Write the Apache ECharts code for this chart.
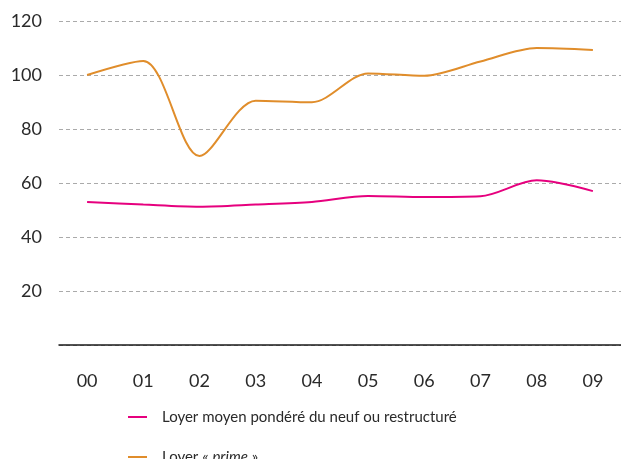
<!DOCTYPE html>
<html>
<head>
<meta charset="utf-8">
<script src="https://cdn.jsdelivr.net/npm/echarts@6/dist/echarts.min.js"></script>
<style>
html,body{margin:0;padding:0;background:#fff;}
#c{width:621px;height:459px;}
</style>
</head>
<body>
<div id="c"></div>
<script>
var categories = ['00','01','02','03','04','05','06','07','08','09'];
var loyerMoyen = [53, 52, 51.2, 52, 53, 55.2, 54.8, 55.1, 61, 57];
var loyerPrime = [100, 105.2, 70, 90.5, 89.9, 100.6, 99.7, 105, 110, 109.3];
var seriesNames = ['Loyer moyen pondéré du neuf ou restructuré', 'Loyer « prime »'];
var seriesColors = ['#e6007e', '#e08d2b'];
var yTicks = [0, 120, 20];

var FONT = 'Lato, "Open Sans", sans-serif';
var chart = echarts.init(document.getElementById('c'), null, {renderer:'canvas'});
chart.setOption({
  animation: false,
  backgroundColor: '#fff',
  grid: {left: 59, top: 21, width: 570, height: 324, containLabel: false},
  xAxis: {
    type: 'category',
    data: categories,
    boundaryGap: true,
    axisLine: {show: true, lineStyle: {color: '#1a1a1a', width: 1.5}},
    axisTick: {show: false},
    axisLabel: {color: '#2a2a2a', fontSize: 18, fontFamily: FONT, margin: 27},
    splitLine: {show: false}
  },
  yAxis: {
    type: 'value',
    min: yTicks[0], max: yTicks[1], interval: yTicks[2],
    axisLine: {show: false},
    axisTick: {show: false},
    axisLabel: {color: '#2a2a2a', fontSize: 18, fontFamily: FONT, margin: 17,
      formatter: function(v){ return v === 0 ? '' : String(v); }},
    splitLine: {show: true, lineStyle: {color: '#aaaaaa', width: 1, type: [4, 3]}}
  },
  legend: {
    orient: 'vertical',
    left: 123, top: 402, height: 120,
    itemGap: 20,
    itemWidth: 19, itemHeight: 2,
    icon: 'rect',
    textStyle: {fontSize: 15, fontFamily: FONT, color: '#2a2a2a', lineHeight: 20, padding: [0,0,0,10],
      rich: {i: {fontStyle: 'italic', fontSize: 15, fontFamily: FONT, color: '#2a2a2a'}}},
    formatter: function(name){
      if (name === seriesNames[1]) return 'Loyer « {i|prime} »';
      return name;
    },
    data: seriesNames
  },
  series: [
    {name: seriesNames[0], type: 'line', data: loyerMoyen, smooth: 0.3, symbol: 'none',
      color: seriesColors[0], lineStyle: {color: seriesColors[0], width: 2}},
    {name: seriesNames[1], type: 'line', data: loyerPrime, smooth: 0.3, symbol: 'none',
      color: seriesColors[1], lineStyle: {color: seriesColors[1], width: 2}}
  ]
});
</script>
</body>
</html>
